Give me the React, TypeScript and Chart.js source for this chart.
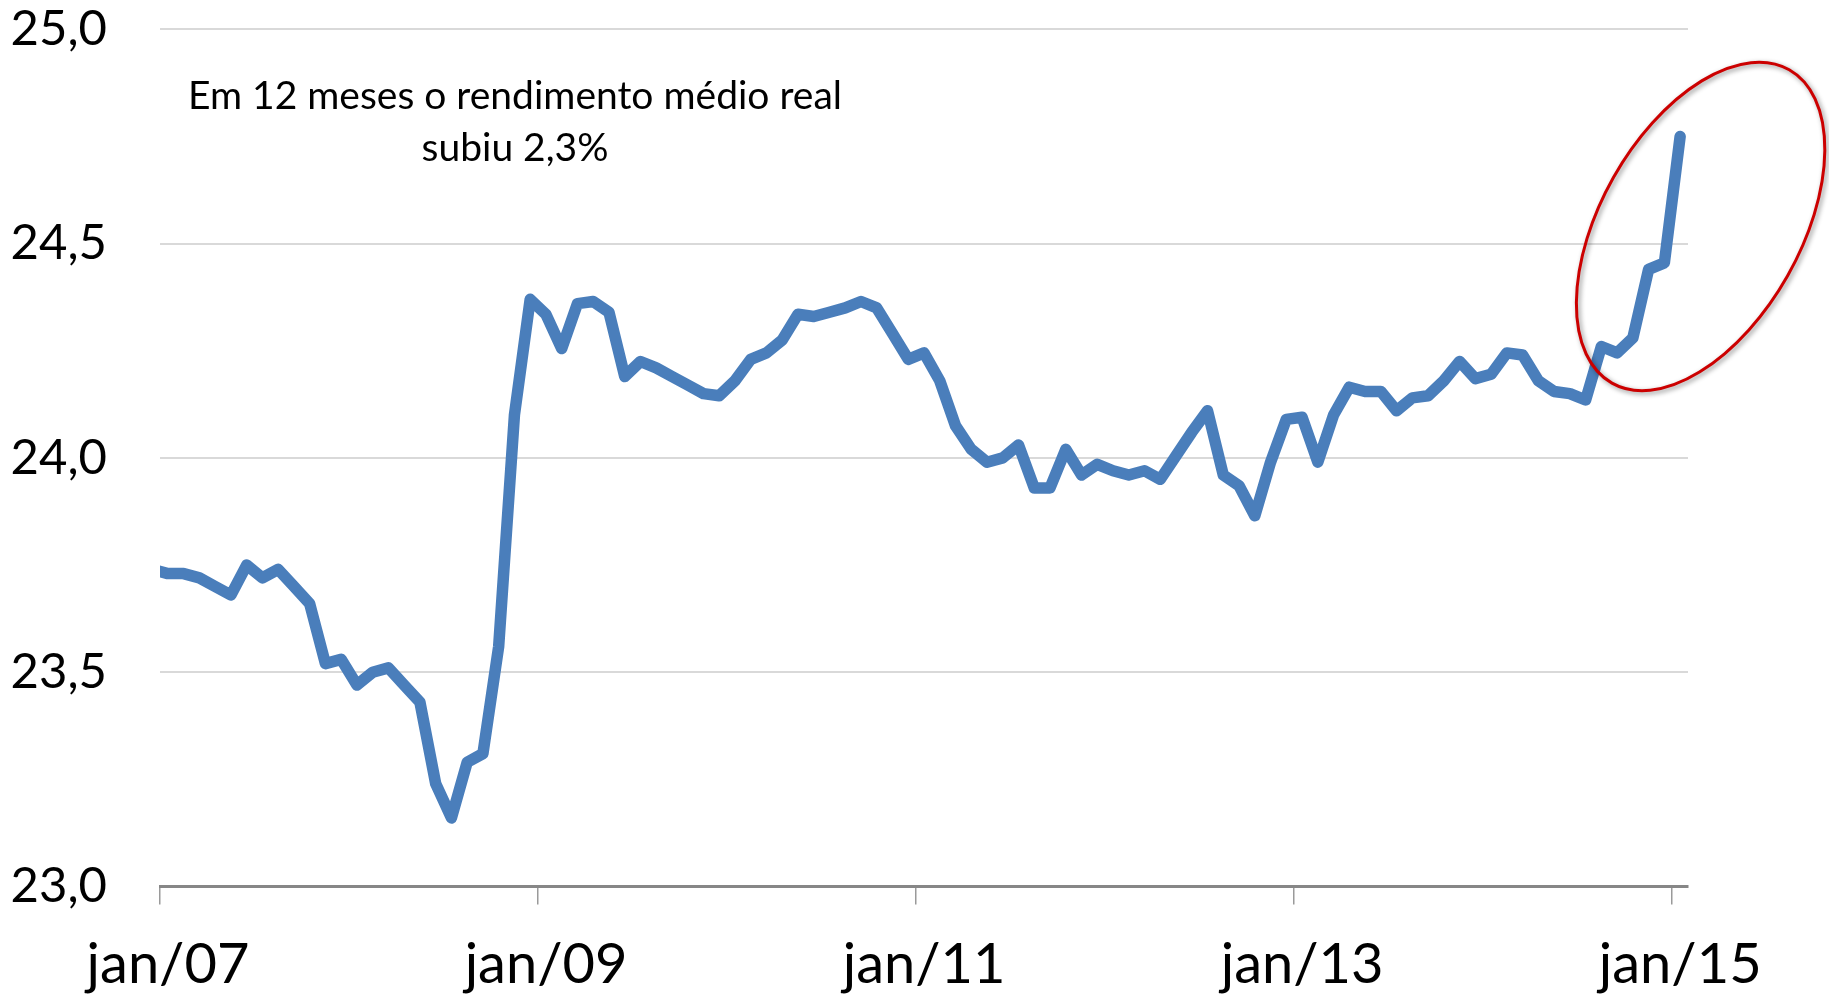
import React, { useEffect, useRef } from 'react';
import { Chart, registerables } from 'chart.js';

Chart.register(...registerables);

// Monthly series: dec/06 (first, partly clipped) through jan/15
const incomeValues: number[] = [
  23.74,
  23.73, 23.73, 23.72, 23.70, 23.68, 23.75, 23.72, 23.74, 23.70, 23.66, 23.52, 23.53,
  23.47, 23.50, 23.51, 23.47, 23.43, 23.24, 23.16, 23.29, 23.31, 23.56, 24.10, 24.37,
  24.335, 24.255, 24.36, 24.365, 24.34, 24.19, 24.225, 24.21, 24.19, 24.17, 24.15, 24.145,
  24.18, 24.23, 24.245, 24.275, 24.335, 24.33, 24.34, 24.35, 24.365, 24.35, 24.29, 24.23,
  24.245, 24.18, 24.075, 24.02, 23.99, 24.0, 24.03, 23.93, 23.93, 24.02, 23.96, 23.985,
  23.97, 23.96, 23.97, 23.95, 24.005, 24.06, 24.11, 23.96, 23.935, 23.865, 23.99, 24.09,
  24.095, 23.99, 24.10, 24.165, 24.155, 24.155, 24.11, 24.14, 24.145, 24.18, 24.225, 24.185,
  24.195, 24.245, 24.24, 24.18, 24.155, 24.15, 24.135, 24.26, 24.245, 24.28, 24.44, 24.455,
  24.75,
];

const xTickPositions: number[] = [0, 24, 48, 72, 96];
const xTickLabels: string[] = ['jan/07', 'jan/09', 'jan/11', 'jan/13', 'jan/15'];
const xRange: number[] = [0, 97];
const yRange: number[] = [23, 25];
const yStep = 0.5;
const noteLines: string[] = ['Em 12 meses o rendimento médio real', 'subiu 2,3%'];
const highlightCenter = { x: 97.8, y: 24.54 };

const FONT = 'Lato, "Open Sans", sans-serif';

export default function App() {
  const canvasRef = useRef<HTMLCanvasElement>(null);

  useEffect(() => {
    const canvas = canvasRef.current;
    if (!canvas) return;

    const overlay = {
      id: 'overlay',
      afterDraw(chart: any) {
        const { ctx, chartArea, scales } = chart;
        ctx.save();
        // note text
        ctx.font = `39px ${FONT}`;
        ctx.fillStyle = '#000000';
        ctx.textAlign = 'center';
        ctx.textBaseline = 'alphabetic';
        const nx = chartArea.left + 355;
        ctx.fillText(noteLines[0], nx, chartArea.top + 80);
        ctx.fillText(noteLines[1], nx, chartArea.top + 132);
        // highlight ellipse
        const ex = scales.x.getPixelForValue(highlightCenter.x);
        const ey = scales.y.getPixelForValue(highlightCenter.y);
        ctx.shadowColor = 'rgba(0,0,0,0.45)';
        ctx.shadowBlur = 5;
        ctx.shadowOffsetX = 2;
        ctx.shadowOffsetY = 2;
        ctx.strokeStyle = '#cc0000';
        ctx.lineWidth = 3;
        ctx.beginPath();
        ctx.ellipse(ex, ey, 180, 100, (-60.5 * Math.PI) / 180, 0, Math.PI * 2);
        ctx.stroke();
        ctx.restore();
      },
    };

    const chart = new Chart(canvas, {
      type: 'line',
      data: {
        datasets: [
          {
            data: incomeValues.map((v, i) => ({ x: i - 0.5, y: v })),
            borderColor: '#4a7ebb',
            borderWidth: 11.5,
            pointRadius: 0,
            pointHoverRadius: 0,
            tension: 0,
            borderJoinStyle: 'round',
            borderCapStyle: 'round',
            clip: 0,
          } as any,
        ],
      },
      options: {
        animation: false,
        responsive: true,
        maintainAspectRatio: false,
        devicePixelRatio: 1,
        layout: { padding: { top: 29.3, right: 141, left: 0, bottom: 0 } },
        plugins: {
          legend: { display: false },
          tooltip: { enabled: false },
        },
        scales: {
          x: {
            type: 'linear',
            min: xRange[0],
            max: xRange[1],
            afterBuildTicks: (scale: any) => {
              scale.ticks = xTickPositions.map((v) => ({ value: v }));
            },
            afterFit: (scale: any) => {
              scale.height = 111.5;
              scale.paddingLeft = 0;
              scale.paddingRight = 0;
            },
            grid: {
              drawOnChartArea: false,
              drawTicks: true,
              tickLength: 18,
              color: '#9a9a9a',
              lineWidth: 1.5,
            },
            border: { display: true, color: '#878787', width: 3 },
            ticks: {
              autoSkip: false,
              maxRotation: 0,
              minRotation: 0,
              padding: 27,
              labelOffset: 8,
              color: '#000000',
              font: { family: FONT, size: 56 },
              callback: (_v: any, i: number) => xTickLabels[i],
            },
          },
          y: {
            type: 'linear',
            min: yRange[0],
            max: yRange[1],
            afterFit: (scale: any) => {
              scale.width = 160;
              scale.paddingTop = 0;
              scale.paddingBottom = 0;
            },
            grid: {
              drawTicks: false,
              color: '#d9d9d9',
              lineWidth: 2,
            },
            border: { display: false },
            ticks: {
              stepSize: yStep,
              padding: 53,
              color: '#000000',
              font: { family: FONT, size: 49 },
              callback: (v: any) => Number(v).toFixed(1).replace('.', ','),
            },
          },
        },
      },
      plugins: [overlay],
    });

    return () => {
      chart.destroy();
    };
  }, []);

  return (
    <div style={{ position: 'absolute', left: 0, top: 0, width: 1829, height: 998, background: '#ffffff' }}>
      <canvas ref={canvasRef} />
    </div>
  );
}
